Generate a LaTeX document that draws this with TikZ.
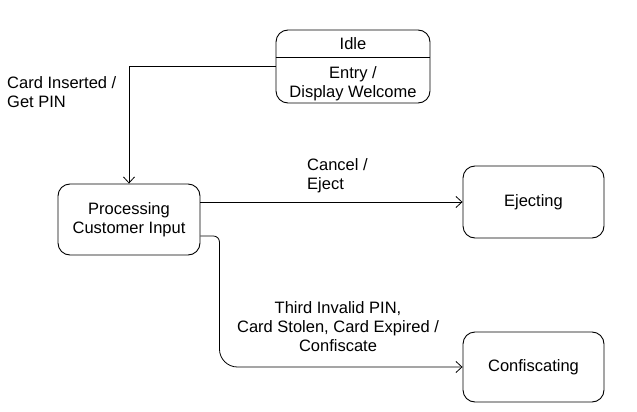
\documentclass[tikz,border=0pt]{standalone}
\usepackage{fontspec}
\setmainfont{Liberation Sans}
\usetikzlibrary{
    arrows.meta,
    shapes.misc
}

\begin{document}
\begin{tikzpicture}[x=1pt, y=-1pt,
        font=\fontsize{16.5}{19}\selectfont,
        state/.style={draw, line width=0.9pt, rounded corners=12pt, align=center, inner sep=0pt},
        trans/.style={->, >={Straight Barb[length=6pt, width=11pt]}, line width=0.8pt},
        lbl/.style={inner sep=0pt}]
            \useasboundingbox (0, 0) rectangle (637, 412);

            \node[state, minimum width=154pt, minimum height=73pt] (idle) at (353, 66.5) {};
            \coordinate (idlesep) at (353, 57);
            \node[lbl] (idlename) at (353, 44) {Idle};
            \node[lbl, align=center, anchor=north] (idleentry) at (353, 66) {Entry /\\Display Welcome};
            \draw[line width=0.9pt] (idle.west |- idlesep)--(idle.east |- idlesep);

            \node[state, minimum width=142pt, minimum height=71pt] (proc) at (129, 219.5) {Processing\\Customer Input};
            \node[state, minimum width=141pt, minimum height=72pt] (eject) at (533.5, 202) {Ejecting};
            \node[state, minimum width=141pt, minimum height=70pt] (confisc) at (533.5, 367) {Confiscating};

            \coordinate (procout) at ([yshift=-16.5pt]proc.east);
            \coordinate (bend) at ([xshift=19pt]proc.east |- confisc.west);

            \draw[trans] (idle.west) -| (proc.north);
            \draw[trans] (proc.east |- eject.west)--(eject.west);
            \draw[trans] (procout) [rounded corners=6pt] -- (procout -| bend) [rounded corners=18pt] -- (bend) -- (confisc.west);

            \node[lbl, align=left, anchor=north west] (lblinsert) at (7, 76) {Card Inserted /\\Get PIN};
            \node[lbl, align=left, anchor=north west] (lblcancel) at (307, 158) {Cancel /\\Eject};
            \node[lbl, align=center, anchor=north] (lblconfisc) at (338, 301) {Third Invalid PIN,\\Card Stolen, Card Expired /\\Confiscate};
        \end{tikzpicture}
\end{document}
